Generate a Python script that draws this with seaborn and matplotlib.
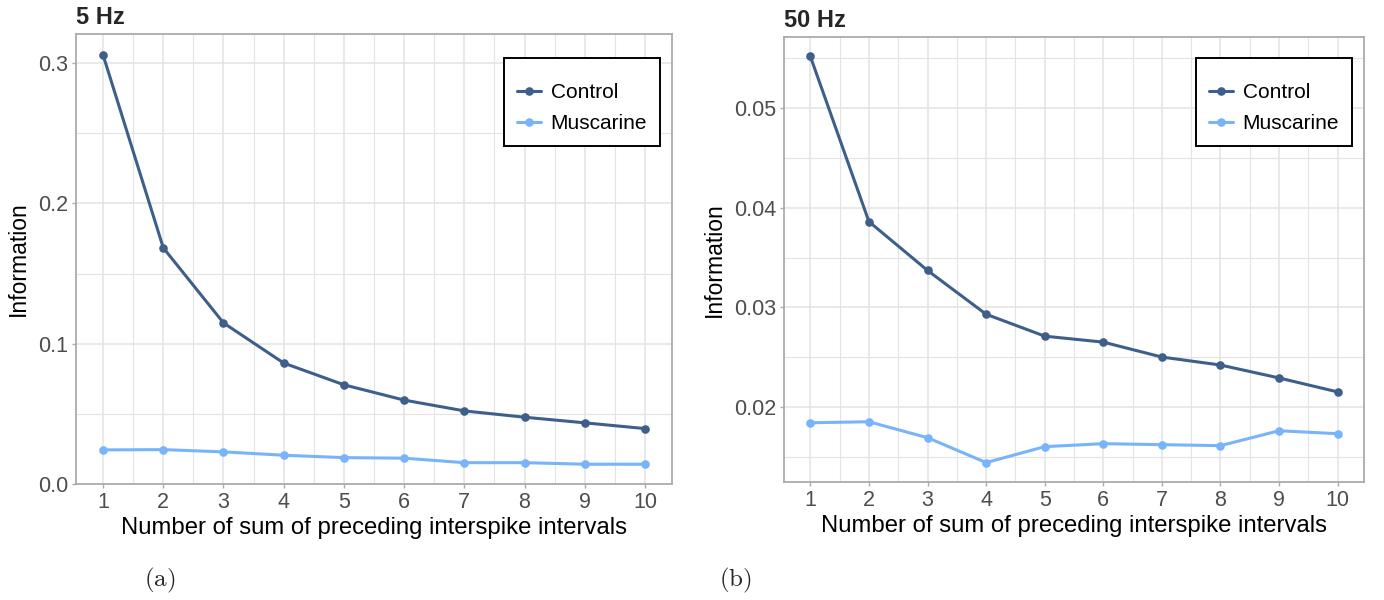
import numpy as np
import pandas as pd
import seaborn as sns
import matplotlib.pyplot as plt
from matplotlib.ticker import MultipleLocator

# Number of summed preceding interspike intervals
n_intervals = list(range(1, 11))

# 5 Hz stimulation
info_5hz_control = [0.3057, 0.1683, 0.1148, 0.0862, 0.0707, 0.0598, 0.0521, 0.0476, 0.0436, 0.0395]
info_5hz_muscarine = [0.0243, 0.0245, 0.0229, 0.0205, 0.0188, 0.0184, 0.0152, 0.0152, 0.0141, 0.0141]

# 50 Hz stimulation
info_50hz_control = [0.0552, 0.0386, 0.0337, 0.0293, 0.0271, 0.0265, 0.0250, 0.0242, 0.0229, 0.0215]
info_50hz_muscarine = [0.0184, 0.0185, 0.0169, 0.0144, 0.0160, 0.0163, 0.0162, 0.0161, 0.0176, 0.0173]

conditions = ["Control", "Muscarine"]
palette = {"Control": "#3E5F8A", "Muscarine": "#78B4FA"}


def long_frame(control, muscarine):
    return pd.DataFrame({
        "n": n_intervals * 2,
        "info": control + muscarine,
        "condition": [conditions[0]] * len(control) + [conditions[1]] * len(muscarine),
    })


sns.set_theme(style="white")
plt.rcParams["font.family"] = ["Liberation Sans", "DejaVu Sans"]

W, H = 1384, 600
fig = plt.figure(figsize=(W / 100, H / 100), dpi=100)


def px_axes(left, top, right, bottom):
    return fig.add_axes([left / W, 1 - bottom / H, (right - left) / W, (bottom - top) / H])


panels = [
    dict(box=(76, 34, 672, 484), data=long_frame(info_5hz_control, info_5hz_muscarine),
         title="5 Hz", ylim=(0.0, 0.3207), major=0.1, minor=0.05, fmt="{:.1f}",
         caption="(a)", cap_x=160, leg_top=58),
    dict(box=(784, 37, 1364, 482), data=long_frame(info_50hz_control, info_50hz_muscarine),
         title="50 Hz", ylim=(0.01245, 0.05715), major=0.01, minor=0.005, fmt="{:.2f}",
         caption="(b)", cap_x=735, leg_top=58),
]

grid_col = "#E3E3E3"
spine_col = "#ABABAB"

for p in panels:
    left, top, right, bottom = p["box"]
    ax = px_axes(left, top, right, bottom)
    ax.set_facecolor("white")
    sns.lineplot(data=p["data"], x="n", y="info", hue="condition", palette=palette,
                 hue_order=conditions, marker="o", markersize=6.2, markeredgewidth=0,
                 linewidth=2.2, ax=ax, zorder=3)
    ax.set_xlim(0.55, 10.45)
    ax.set_ylim(*p["ylim"])
    ax.xaxis.set_major_locator(MultipleLocator(1))
    ax.xaxis.set_minor_locator(MultipleLocator(0.5))
    ax.yaxis.set_major_locator(MultipleLocator(p["major"]))
    ax.yaxis.set_minor_locator(MultipleLocator(p["minor"]))
    ax.set_yticks([t for t in ax.get_yticks() if p["ylim"][0] - 1e-9 <= t <= p["ylim"][1]])
    ax.set_yticklabels([p["fmt"].format(t) for t in ax.get_yticks()])
    ax.grid(True, which="major", color=grid_col, linewidth=1.1, zorder=0)
    ax.grid(True, which="minor", color=grid_col, linewidth=0.8, zorder=0)
    ax.set_axisbelow(True)
    for s in ax.spines.values():
        s.set_color(spine_col)
        s.set_linewidth(1.3)
    ax.tick_params(axis="both", which="major", labelsize=15.5, labelcolor="#4D4D4D",
                   color=spine_col, length=3, width=1, pad=2.5, bottom=True, left=True)
    ax.tick_params(axis="both", which="minor", length=0)
    ax.set_xlabel("Number of sum of preceding interspike intervals", fontsize=17.2,
                  color="black", labelpad=3)
    ax.set_ylabel("Information", fontsize=16.5, color="black", labelpad=6)
    ax.set_title(p["title"], loc="left", fontsize=17, fontweight="bold", pad=7, x=0.0)

    handles, labels = ax.get_legend_handles_labels()
    ax_h = bottom - top
    ax_w = right - left
    leg = ax.legend(handles, labels, loc="upper right",
                    bbox_to_anchor=((ax_w - 12) / ax_w, 1 - (p["leg_top"] - top) / ax_h),
                    title=" ", title_fontsize=1,
                    fontsize=15, frameon=True, fancybox=False, edgecolor="black",
                    framealpha=1, handlelength=1.15, handletextpad=0.45,
                    borderpad=0.62, labelspacing=0.55, borderaxespad=0)
    leg.get_frame().set_linewidth(1.4)
    for t in leg.get_texts():
        t.set_color("black")

    fig.text(p["cap_x"] / W, 1 - 580 / H, r"$\mathrm{" + p["caption"] + "}$",
             fontsize=18, ha="center", va="center", math_fontfamily="cm")

fig.savefig("out.png", dpi=100, facecolor="white")
